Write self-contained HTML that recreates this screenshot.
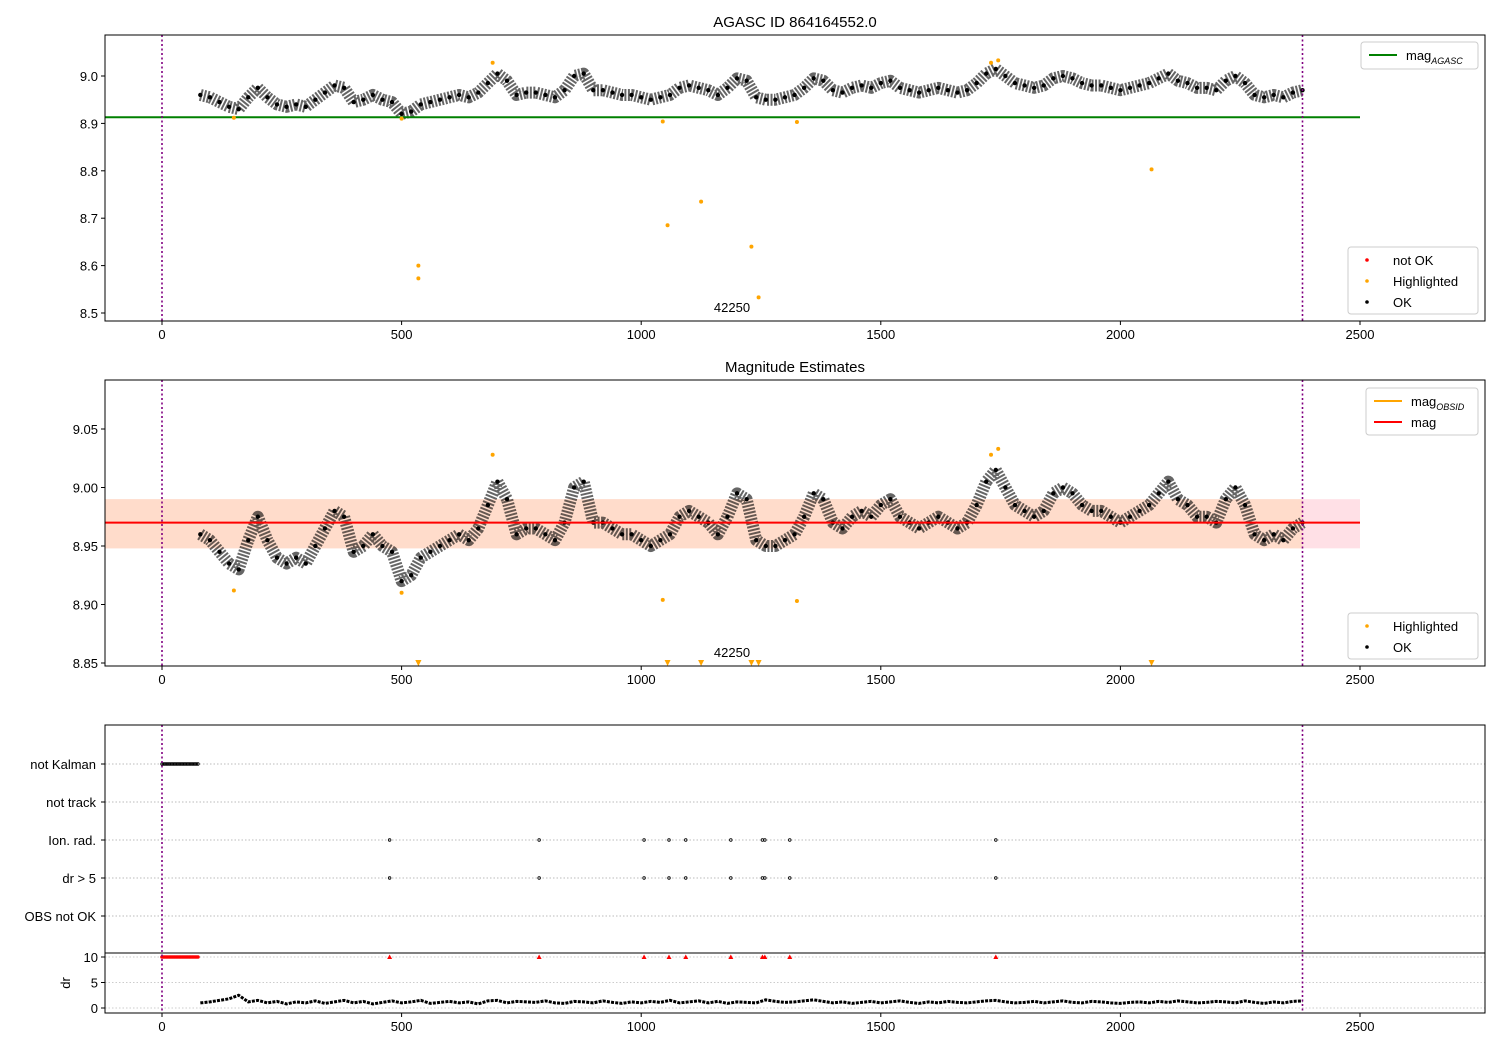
<!DOCTYPE html>
<html><head><meta charset="utf-8"><style>
body{margin:0;background:#fff}
svg{font-family:"Liberation Sans","DejaVu Sans",sans-serif}
</style></head><body>
<svg id="c" width="1500" height="1050" xmlns="http://www.w3.org/2000/svg"></svg>
<script>
const frames=[80,100,120,140,160,180,200,220,240,260,280,300,320,340,360,380,400,420,440,460,480,500,520,540,560,580,600,620,640,660,680,700,720,740,760,780,800,820,840,860,880,900,920,940,960,980,1000,1020,1040,1060,1080,1100,1120,1140,1160,1180,1200,1220,1240,1260,1280,1300,1320,1340,1360,1380,1400,1420,1440,1460,1480,1500,1520,1540,1560,1580,1600,1620,1640,1660,1680,1700,1720,1740,1760,1780,1800,1820,1840,1860,1880,1900,1920,1940,1960,1980,2000,2020,2040,2060,2080,2100,2120,2140,2160,2180,2200,2220,2240,2260,2280,2300,2320,2340,2360,2380];
const mags=[8.96,8.955,8.945,8.935,8.93,8.955,8.975,8.955,8.94,8.935,8.94,8.935,8.95,8.965,8.98,8.975,8.945,8.95,8.96,8.95,8.945,8.92,8.925,8.94,8.945,8.95,8.955,8.96,8.955,8.965,8.985,9.005,8.99,8.96,8.965,8.965,8.96,8.955,8.97,9.0,9.005,8.97,8.97,8.965,8.96,8.96,8.955,8.95,8.955,8.96,8.975,8.98,8.975,8.97,8.96,8.975,8.995,8.99,8.955,8.95,8.95,8.955,8.96,8.975,8.995,8.99,8.97,8.965,8.975,8.98,8.975,8.985,8.99,8.975,8.97,8.965,8.97,8.975,8.97,8.965,8.97,8.985,9.005,9.015,9.0,8.985,8.98,8.975,8.98,8.995,9.0,8.995,8.985,8.98,8.98,8.975,8.97,8.975,8.98,8.985,8.995,9.005,8.99,8.985,8.975,8.975,8.97,8.99,9.0,8.985,8.96,8.955,8.96,8.955,8.965,8.97];
const drVals=[1,1.2,1.5,1.8,2.5,1.2,1.5,1,1.3,0.8,1.2,1,1.4,0.9,1.2,1.5,1,1.3,0.8,1.1,1.4,1,1.2,1.5,0.9,1.1,1.3,1,1.2,0.8,1.4,1.5,1,1.3,1.2,1.1,1.4,1,0.9,1.3,1.2,1,1.4,1.1,0.9,1.2,1,1.3,1.1,1.5,1,1.2,1.4,1,1.3,0.9,1.2,1.1,1,1.6,1.3,1.1,1.2,1.4,1.6,1.3,1,1.2,0.9,1.1,1.3,1,1.2,1.4,1.1,0.9,1.2,1,1.3,1.1,1,1.2,1.4,1.5,1.2,1,1.1,1.3,1,1.2,1.4,1.1,1,1.3,1.2,1,0.9,1.1,1.2,1,1.3,1.1,1.4,1.2,1,1.1,1.3,1.2,1,1.4,1.1,0.9,1.2,1,1.3,1.4];
const hiFrames=[150,500,535,535,690,1045,1055,1125,1230,1245,1325,1730,1745,2065];
const hiMags=[8.912,8.91,8.6,8.573,9.028,8.904,8.685,8.735,8.64,8.533,8.903,9.028,9.033,8.803];
const flagFrames=[475,787,1006,1058,1093,1187,1253,1258,1310,1740];
const catLabels=["not Kalman","not track","Ion. rad.","dr > 5","OBS not OK"];
const xTicks=[0,500,1000,1500,2000,2500];
const y1Ticks=[8.5,8.6,8.7,8.8,8.9,9.0];
const y2Ticks=[8.85,8.90,8.95,9.00,9.05];
const drTicks=[0,5,10];
const magAgasc=8.913, magObs=8.97, bandLo=8.948, bandHi=8.99;

const S=document.getElementById('c');const NS='http://www.w3.org/2000/svg';
function el(t,a,p){const e=document.createElementNS(NS,t);for(const k in a)e.setAttribute(k,a[k]);(p||S).appendChild(e);return e;}
const X=f=>162+f*0.47920;
const Y1=m=>76+(9.0-m)*474;
const Y2=m=>487.5+(9.0-m)*1170;
const YD=d=>1008-d*5.1;
const L=105,R=1485;
const panels=[[35,321],[380,666],[725,1013]];

let b=el('rect',{x:L,y:Y2(bandHi),width:X(2500)-L,height:Y2(bandLo)-Y2(bandHi),fill:'#ffe0e6'});


b=el('rect',{x:L,y:Y2(bandHi),width:X(2380)-L,height:Y2(bandLo)-Y2(bandHi),fill:'#ffdccb'});



[764,802,840,878,916].forEach(y=>el('line',{x1:L,x2:R,y1:y,y2:y,stroke:'#bbb','stroke-dasharray':'1.5,2'}));
drTicks.forEach(d=>el('line',{x1:L,x2:R,y1:YD(d),y2:YD(d),stroke:'#ccc','stroke-dasharray':'1.5,2'}));

function series(yf,g){
  const pts=frames.map((f,i)=>X(f)+','+yf(mags[i])).join(' ');
  el('polyline',{points:pts,fill:'none',stroke:'#000','stroke-width':12,'stroke-opacity':0.6,'stroke-linejoin':'round','stroke-dasharray':'2,1.5'},g);
  frames.forEach((f,i)=>{const c=el('circle',{cx:X(f),cy:yf(mags[i]),r:2.2,fill:'#000'},g);
    
    });
}
let g1=el('g',{});
series(Y1,g1);
let ln=el('line',{x1:L,x2:X(2500),y1:Y1(magAgasc),y2:Y1(magAgasc),stroke:'#008000','stroke-width':2},g1);


hiFrames.forEach((f,i)=>{const c=el('circle',{cx:X(f),cy:Y1(hiMags[i]),r:2,fill:'orange'},g1);
  
  });
let g2=el('g',{});
series(Y2,g2);
ln=el('line',{x1:L,x2:X(2500),y1:Y2(magObs),y2:Y2(magObs),stroke:'red','stroke-width':2},g2);


hiFrames.forEach((f,i)=>{
  if(hiMags[i]<8.85){const x=X(f),y=663;const p=el('path',{d:`M${x-3},${y-3}L${x+3},${y-3}L${x},${y+3}Z`,fill:'orange'},g2);
    
    }
  else{const c=el('circle',{cx:X(f),cy:Y2(hiMags[i]),r:2,fill:'orange'},g2);
    
    }
});
let g3=el('g',{});
for(let f=0;f<=75;f+=3){el('circle',{cx:X(f),cy:764,r:1.3,fill:'none',stroke:'#000','stroke-width':0.8},g3);
  el('circle',{cx:X(f),cy:YD(10),r:1.8,fill:'red'},g3);}
flagFrames.forEach(f=>{
  [840,878].forEach(y=>{const c=el('circle',{cx:X(f),cy:y,r:1.3,fill:'none',stroke:'#000','stroke-width':0.8},g3);
    
    });
  const p=el('path',{d:`M${X(f)-2.5},${YD(10)+2}L${X(f)+2.5},${YD(10)+2}L${X(f)},${YD(10)-2.5}Z`,fill:'red'},g3);
  
  
});
const drPts=frames.map((f,i)=>X(f)+','+YD(drVals[i])).join(' ');
el('polyline',{points:drPts,fill:'none',stroke:'#000','stroke-width':3,'stroke-dasharray':'3,1.2'},g3);

[0,2380].forEach(f=>panels.forEach(([t,bt])=>{const v=el('line',{x1:X(f),x2:X(f),y1:t,y2:bt,stroke:'purple','stroke-width':1.6,'stroke-dasharray':'2,2.5'});
  
  }));

function txt(x,y,s,o){const t=el('text',Object.assign({x:x,y:y,'font-size':13,fill:'#000'},o||{}));t.textContent=s;return t;}
panels.forEach(([t,bt],i)=>{
  const r=el('rect',{x:L,y:t,width:R-L,height:bt-t,fill:'none',stroke:'#000','stroke-width':1});
  
  
  xTicks.forEach(v=>{el('line',{x1:X(v),x2:X(v),y1:bt,y2:bt+4,stroke:'#000'});
    const tt=txt(X(v),bt+18,String(v),{'text-anchor':'middle'});
    
    });
});
el('line',{x1:L,x2:R,y1:953,y2:953,stroke:'#000'});
y1Ticks.forEach(v=>{el('line',{x1:L-4,x2:L,y1:Y1(v),y2:Y1(v),stroke:'#000'});txt(L-7,Y1(v)+5,v.toFixed(1),{'text-anchor':'end'});});
y2Ticks.forEach(v=>{el('line',{x1:L-4,x2:L,y1:Y2(v),y2:Y2(v),stroke:'#000'});txt(L-7,Y2(v)+5,v.toFixed(2),{'text-anchor':'end'});});
catLabels.forEach((s,i)=>{const y=764+i*38;el('line',{x1:L-4,x2:L,y1:y,y2:y,stroke:'#000'});txt(L-9,y+5,s,{'text-anchor':'end'});});
drTicks.forEach(v=>{el('line',{x1:L-4,x2:L,y1:YD(v),y2:YD(v),stroke:'#000'});txt(L-7,YD(v)+5,String(v),{'text-anchor':'end'});});
txt(70,983,'dr',{'text-anchor':'middle',transform:'rotate(-90 70 983)'});
txt(795,27,'AGASC ID 864164552.0',{'text-anchor':'middle','font-size':15});
txt(795,372,'Magnitude Estimates',{'text-anchor':'middle','font-size':15});
txt(732,312,'42250',{'text-anchor':'middle'});
txt(732,657,'42250',{'text-anchor':'middle'});

function legend(x,y,w,h,items,name){
  const g=el('g',{});
  el('rect',{x:x,y:y,width:w,height:h,rx:3,fill:'#fff',stroke:'#ccc','fill-opacity':0.8},g);
  items.forEach((it,i)=>{const cy=y+13+i*21;
    if(it.t==='line')el('line',{x1:x+8,x2:x+36,y1:cy,y2:cy,stroke:it.c,'stroke-width':2},g);
    else el('circle',{cx:x+19,cy:cy,r:1.8,fill:it.c},g);
    const t=el('text',{x:x+45,y:cy+5,'font-size':13},g);t.innerHTML=it.s;});
}
legend(1361,42,117,27,[{t:'line',c:'green',s:'mag<tspan font-size="9" font-style="italic" dy="4">AGASC</tspan>'}],'legend-agasc');
legend(1348,247,130,67,[{t:'dot',c:'red',s:'not OK'},{t:'dot',c:'orange',s:'Highlighted'},{t:'dot',c:'#000',s:'OK'}],'legend-status');
legend(1366,388,112,47,[{t:'line',c:'orange',s:'mag<tspan font-size="9" font-style="italic" dy="4">OBSID</tspan>'},{t:'line',c:'red',s:'mag'}],'legend-mag');
legend(1348,613,130,46,[{t:'dot',c:'orange',s:'Highlighted'},{t:'dot',c:'#000',s:'OK'}],'legend-status-2');
</script>
</body></html>
